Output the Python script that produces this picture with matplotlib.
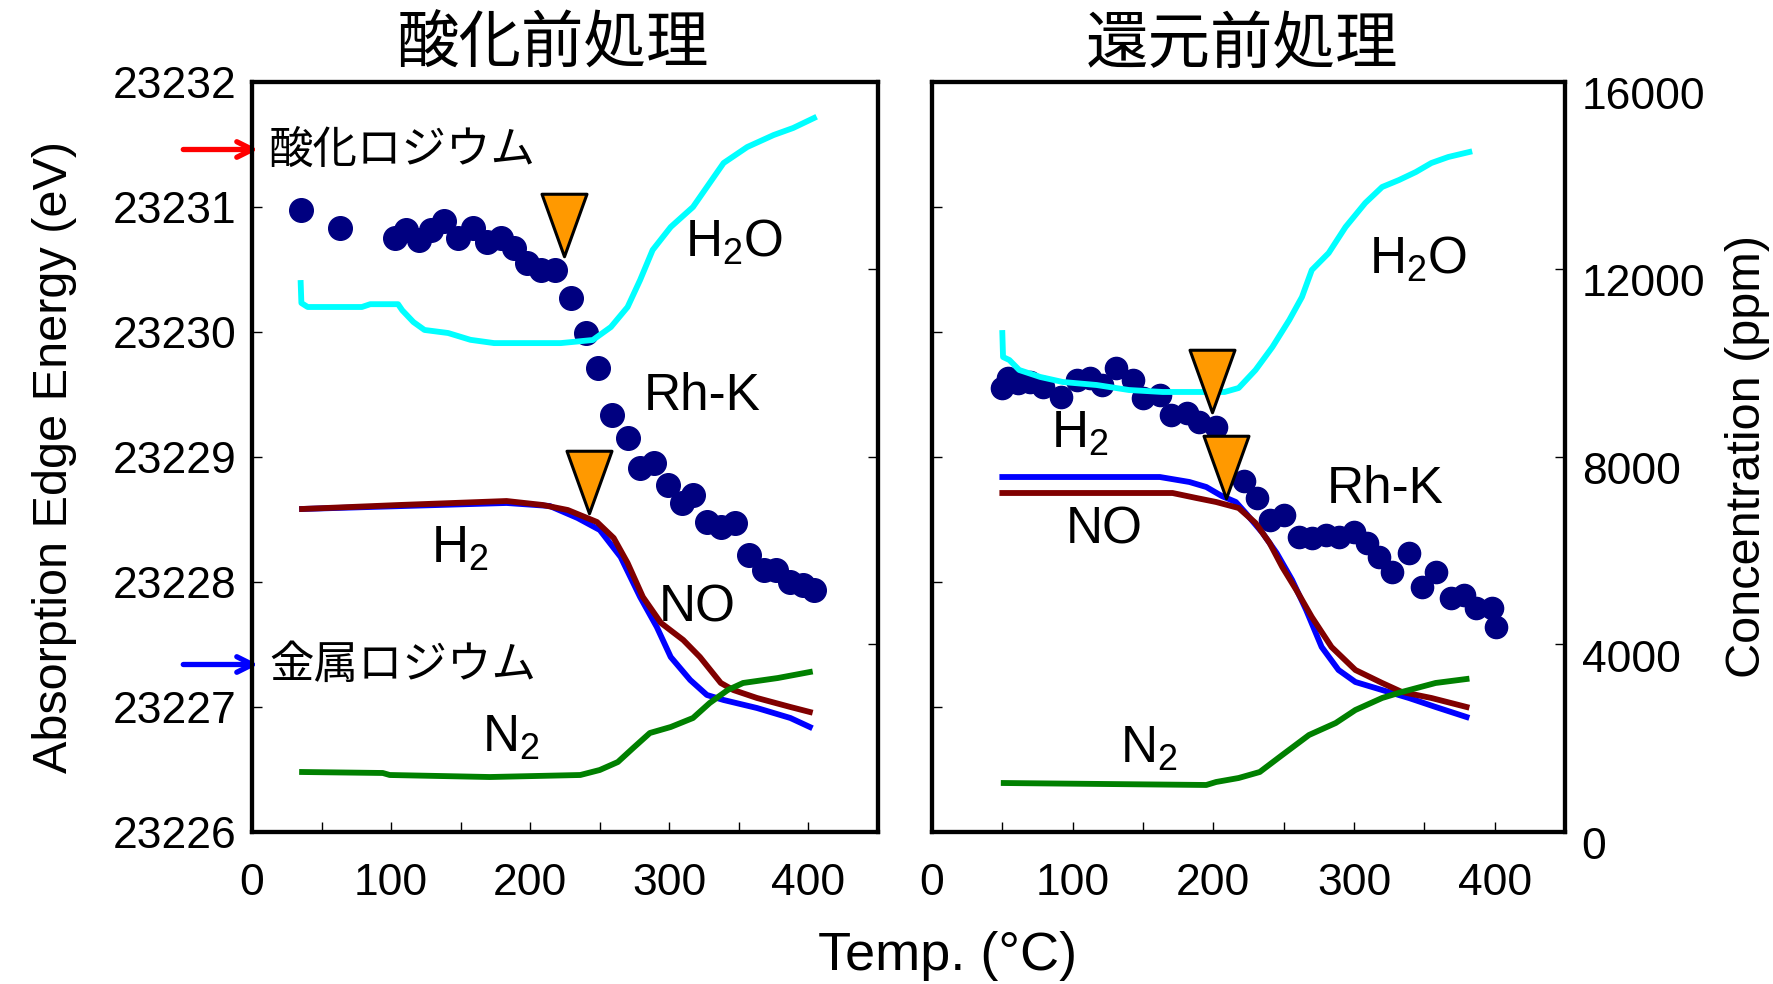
import matplotlib
matplotlib.use('Agg')
import matplotlib.pyplot as plt
from matplotlib.ticker import MultipleLocator, NullFormatter
from matplotlib.transforms import ScaledTranslation
from matplotlib.path import Path

plt.rcParams['font.family'] = ['Liberation Sans', 'Noto Sans CJK JP']
plt.rcParams['mathtext.fontset'] = 'custom'
plt.rcParams['mathtext.rm'] = 'Liberation Sans'

# ---------------- data: oxidation pretreatment (left) ----------------
ox_rh_T = [35, 63, 103, 111, 120, 129, 138, 148, 159, 169, 179, 188, 198, 208, 218,
           229, 240, 249, 259, 270, 279, 289, 299, 309, 317, 327, 337, 347, 357,
           368, 377, 387, 396, 404]
ox_rh_E = [23230.98, 23230.83, 23230.75, 23230.82, 23230.74, 23230.82, 23230.89,
           23230.75, 23230.83, 23230.72, 23230.75, 23230.67, 23230.55, 23230.50,
           23230.50, 23230.27, 23229.99, 23229.71, 23229.34, 23229.15, 23228.91,
           23228.95, 23228.78, 23228.63, 23228.70, 23228.48, 23228.44, 23228.47,
           23228.22, 23228.10, 23228.10, 23228.00, 23227.98, 23227.94]

ox_h2o_T = [35, 35.5, 40, 79, 85, 105, 108, 116, 124, 141, 157, 174, 222, 245, 258,
            270, 279, 288, 301, 317, 327, 339, 356, 375, 389, 404]
ox_h2o = [11712, 11285, 11200, 11200, 11260, 11260, 11130, 10880, 10710, 10645,
          10500, 10430, 10430, 10496, 10773, 11200, 11776, 12416, 12907, 13333,
          13760, 14272, 14613, 14869, 15019, 15232]

ox_no_T = [36, 106, 183, 209, 227, 248, 260, 270, 281, 294, 310, 322, 337, 346,
           363, 387, 401]
ox_no = [6891, 6976, 7061, 6976, 6869, 6613, 6272, 5739, 5013, 4459, 4096, 3733,
         3179, 3029, 2859, 2667, 2560]

ox_h2_T = [36, 183, 214, 234, 250, 265, 279, 291, 301, 315, 327, 339, 363, 387, 401]
ox_h2 = [6891, 7019, 6955, 6699, 6443, 5867, 5013, 4373, 3733, 3243, 2923, 2816,
         2645, 2432, 2240]

ox_n2_T = [36, 94, 99, 171, 236, 250, 263, 274, 286, 301, 317, 329, 342, 353, 378, 401]
ox_n2 = [1280, 1259, 1216, 1173, 1216, 1323, 1493, 1792, 2112, 2240, 2432, 2752,
         3029, 3179, 3285, 3413]

ox_tri_T = [224, 242]
ox_tri_E = [23230.86, 23228.80]

# ---------------- data: reduction pretreatment (right) ----------------
red_rh_T = [50, 54, 61, 70, 79, 92, 103, 112, 121, 131, 143, 150, 162, 170, 181,
            190, 202, 222, 231, 240, 250, 261, 270, 280, 289, 300, 309, 318, 327,
            339, 348, 358, 369, 378, 387, 398, 401]
red_rh_E = [23229.55, 23229.63, 23229.59, 23229.60, 23229.56, 23229.48, 23229.62,
            23229.63, 23229.58, 23229.71, 23229.62, 23229.47, 23229.50, 23229.34,
            23229.35, 23229.28, 23229.24, 23228.81, 23228.67, 23228.50, 23228.54,
            23228.36, 23228.35, 23228.38, 23228.36, 23228.40, 23228.31, 23228.20,
            23228.08, 23228.23, 23227.96, 23228.08, 23227.87, 23227.90, 23227.79,
            23227.79, 23227.64]

red_h2o_T = [50, 50.5, 55, 62, 77, 93, 117, 140, 164, 208, 218, 230, 242, 254, 263,
             270, 282, 294, 308, 320, 332, 344, 355, 367, 382]
red_h2o = [10645, 10133, 10069, 9856, 9707, 9600, 9536, 9429, 9387, 9387, 9472,
           9856, 10347, 10923, 11413, 11989, 12352, 12907, 13419, 13760, 13909,
           14080, 14272, 14400, 14507]

red_h2_T = [50, 162, 183, 195, 206, 216, 223, 235, 245, 256, 266, 277, 289, 301,
            320, 339, 358, 380]
red_h2 = [7573, 7573, 7467, 7360, 7168, 7040, 6805, 6379, 5952, 5376, 4736, 3947,
          3456, 3200, 3029, 2859, 2667, 2453]

red_no_T = [50, 171, 188, 202, 218, 230, 240, 249, 259, 270, 284, 301, 320, 334,
            355, 380]
red_no = [7232, 7232, 7125, 7040, 6912, 6592, 6165, 5653, 5163, 4587, 3947, 3456,
          3179, 2987, 2859, 2667]

red_n2_T = [51, 195, 202, 218, 233, 249, 268, 287, 301, 320, 334, 358, 380]
red_n2 = [1045, 1003, 1067, 1152, 1280, 1643, 2069, 2325, 2603, 2859, 2987, 3179, 3264]

red_tri_T = [199, 209]
red_tri_E = [23229.61, 23228.92]

e_ticks = [23226, 23227, 23228, 23229, 23230, 23231, 23232]
ppm_ticks = [0, 4000, 8000, 12000, 16000]

C_RH = '#000080'
C_H2O = '#00FFFF'
C_H2 = '#0000FF'
C_NO = '#800000'
C_N2 = '#008000'
C_TRI = '#FF9900'

tri = Path([(-0.36, 0.5), (0.36, 0.5), (0.0, -0.5), (-0.36, 0.5)],
           [Path.MOVETO, Path.LINETO, Path.LINETO, Path.CLOSEPOLY])

fig = plt.figure(figsize=(17.73, 9.84), dpi=100)
axL = fig.add_axes([252 / 1773, 1 - 832 / 984, 626 / 1773, 750 / 984])
axR = fig.add_axes([932 / 1773, 1 - 832 / 984, 633 / 1773, 750 / 984])
axL2 = axL.twinx()
axR2 = axR.twinx()

TICK_FS = 32
LAB_FS = 37
LW = 4.2


def setup(ax, ax2):
    ax.set_xlim(0, 450)
    ax.set_ylim(23226, 23232)
    ax2.set_ylim(0, 16000)
    ax.set_yticks(e_ticks)
    ax2.set_yticks(ppm_ticks)
    ax.xaxis.set_major_locator(MultipleLocator(100))
    ax.xaxis.set_minor_locator(MultipleLocator(50))
    for a in (ax, ax2):
        a.tick_params(which='both', direction='in', length=7, width=1,
                      labelsize=TICK_FS)
        for s in a.spines.values():
            s.set_linewidth(3)
    ax.tick_params(axis='x', pad=22)
    ax.tick_params(axis='y', pad=11)
    ax2.tick_params(axis='y', pad=12)


def series(ax, ax2, rT, rE, wT, w, hT, h, nT, n, n2T, n2, triT, triE, ms):
    ax.plot(rT, rE, 'o', color=C_RH, ms=ms, mec=C_RH, zorder=2)
    ax2.plot(wT, w, color=C_H2O, lw=LW, zorder=3)
    ax2.plot(hT, h, color=C_H2, lw=LW, zorder=3)
    ax2.plot(nT, n, color=C_NO, lw=LW, zorder=4)
    ax2.plot(n2T, n2, color=C_N2, lw=LW, zorder=4)
    ax2.plot(triT, triE, linestyle='none', marker=tri, ms=45, mfc=C_TRI,
             mec='black', mew=2.2, transform=ax.transData, zorder=6,
             clip_on=False)


setup(axL, axL2)
setup(axR, axR2)

series(axL, axL2, ox_rh_T, ox_rh_E, ox_h2o_T, ox_h2o, ox_h2_T, ox_h2,
       ox_no_T, ox_no, ox_n2_T, ox_n2, ox_tri_T, ox_tri_E, 17)
series(axR, axR2, red_rh_T, red_rh_E, red_h2o_T, red_h2o, red_h2_T, red_h2,
       red_no_T, red_no, red_n2_T, red_n2, red_tri_T, red_tri_E, 16)

axL2.yaxis.set_major_formatter(NullFormatter())
axR.yaxis.set_major_formatter(NullFormatter())

# right-hand ppm labels sit a little low in the original
for lab in axR2.get_yticklabels():
    lab.set_transform(lab.get_transform() + ScaledTranslation(0, -11 / 100, fig.dpi_scale_trans))

# curve labels
H2O = r'H$_\mathregular{2}$O'
H2 = r'H$_\mathregular{2}$'
N2 = r'N$_\mathregular{2}$'
kw = dict(fontsize=LAB_FS, ha='center', va='baseline', zorder=7)
axL.text(0.770, 0.767, H2O, transform=axL.transAxes, **kw)
axL.text(0.719, 0.563, 'Rh-K', transform=axL.transAxes, **kw)
axL.text(0.332, 0.359, H2, transform=axL.transAxes, **kw)
axL.text(0.711, 0.280, 'NO', transform=axL.transAxes, **kw)
axL.text(0.414, 0.107, N2, transform=axL.transAxes, **kw)
axR.text(0.768, 0.745, H2O, transform=axR.transAxes, **kw)
axR.text(0.716, 0.439, 'Rh-K', transform=axR.transAxes, **kw)
axR.text(0.234, 0.512, H2, transform=axR.transAxes, **kw)
axR.text(0.272, 0.385, 'NO', transform=axR.transAxes, **kw)
axR.text(0.343, 0.093, N2, transform=axR.transAxes, **kw)

# reference energies: rhodium oxide / metallic rhodium
refs = [(23231.46, 'red', '酸化ロジウム'), (23227.34, 'blue', '金属ロジウム')]
for e, c, t in refs:
    axL.annotate('', xy=(0.01, e), xycoords=('axes fraction', 'data'),
                 xytext=(-54, 0), textcoords='offset points',
                 arrowprops=dict(arrowstyle='->', color=c, lw=3.8,
                                 mutation_scale=28, shrinkA=0, shrinkB=0),
                 annotation_clip=False, zorder=8)
    axL.text(0.027, e, t, transform=axL.get_yaxis_transform(), fontsize=32,
             ha='left', va='center', family=['Noto Sans CJK JP'], zorder=8)

# axis titles
axL.set_ylabel('Absorption Edge Energy (eV)', fontsize=35, labelpad=26)
axR2.set_ylabel('Concentration (ppm)', fontsize=35, labelpad=14)
fig.text(948 / 1773, 1 - 956 / 984, 'Temp. (°C)', fontsize=39, ha='center', va='center')
fig.text(553 / 1773, 1 - 45 / 984, '酸化前処理', fontsize=45, ha='center', va='center',
         family=['Noto Sans CJK JP'])
fig.text(1242 / 1773, 1 - 45 / 984, '還元前処理', fontsize=45, ha='center', va='center',
         family=['Noto Sans CJK JP'])

fig.savefig('out.png', dpi=100)
